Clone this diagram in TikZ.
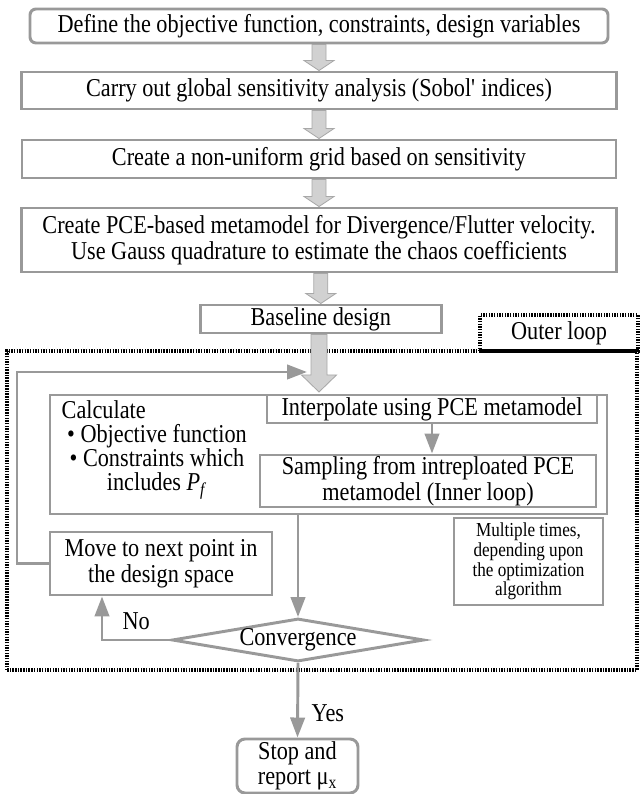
\documentclass[tikz,border=0pt]{standalone}
\usepackage{fontspec}
\setmainfont{Liberation Serif}[FakeStretch=0.865]
\usetikzlibrary{shapes.geometric,arrows.meta,calc}
\definecolor{linegray}{gray}{0.6}
\definecolor{arrowfill}{gray}{0.82}
\definecolor{arrowline}{gray}{0.66}
\tikzset{
  stepbox/.style={draw=linegray, line width=2.1pt, inner sep=0pt, align=center},
  loopframe/.style={draw=black, line width=2.4pt, dash pattern=on 1pt off 0.9pt},
  flowline/.style={draw=linegray, line width=2.1pt},
  flowarrow/.style={flowline, -{Triangle[length=0.5cm,width=0.36cm]}},
  blockarrow/.style={draw=arrowline, fill=arrowfill, line width=0.6pt},
}
% wide grey arrow: #1 from node, #2 target point, #3 half shaft, #4 half head, #5 head length
\newcommand{\drawblockarrow}[5]{%
  \draw[blockarrow] let \p1=(#1.south), \p2=(#2) in
    (\x2-#3,\y1) -- (\x2-#3,\y2+#5) -- (\x2-#4,\y2+#5) -- (\x2,\y2)
    -- (\x2+#4,\y2+#5) -- (\x2+#3,\y2+#5) -- (\x2+#3,\y1) -- cycle;}
\begin{document}
\begin{tikzpicture}
                        \useasboundingbox (0,0) rectangle (16,19.85);
                        {\fontsize{18.3}{18.2}\selectfont

                        % Drawing the outer loop frame
                        \draw [loopframe] (0.175,3.1) rectangle (15.925,11.075);%
                        \node [stepbox, loopframe, minimum width=3.95cm, minimum height=0.9cm] (outer) at (13.975,11.525) {Outer loop};%

                        % Drawing the set-up steps
                        \node [stepbox, rounded corners=0.15cm, minimum width=14.45cm, minimum height=0.85cm] (define) at (7.975,19.2) {Define the objective function, constraints, design variables};%
                        \node [stepbox, minimum width=14.875cm, minimum height=0.925cm] (sens) at (7.975,17.5875) {Carry out global sensitivity analysis (Sobol\textquotesingle\ indices)};%
                        \node [stepbox, minimum width=14.85cm, minimum height=0.95cm] (grid) at (7.975,15.875) {Create a non-uniform grid based on sensitivity};%
                        \node [stepbox, minimum width=14.875cm, minimum height=1.6cm] (pce) at (7.975,13.85) {Create PCE-based metamodel for Divergence/Flutter velocity.\\ Use Gauss quadrature to estimate the chaos coefficients};%
                        \node [stepbox, minimum width=6.025cm, minimum height=0.7cm] (baseline) at (8.02,11.875) {Baseline design};%

                        % Marking the loop entry points
                        \coordinate (entry) at (7.975,10.05);%
                        \coordinate (loopcorner) at (0.425,10.55);%
                        \coordinate (looptip) at (7.675,10.55);%
                        \coordinate (noturn) at (2.55,3.85);%

                        % Drawing the grey arrows
                        \drawblockarrow{define}{sens.north}{0.175cm}{0.375cm}{0.25cm}%
                        \drawblockarrow{sens}{grid.north}{0.175cm}{0.375cm}{0.25cm}%
                        \drawblockarrow{grid}{pce.north}{0.175cm}{0.375cm}{0.25cm}%
                        \drawblockarrow{pce}{baseline.north}{0.175cm}{0.375cm}{0.25cm}%
                        \drawblockarrow{baseline}{entry}{0.2cm}{0.4375cm}{0.425cm}%

                        % Drawing the calculation block
                        \node [stepbox, minimum width=13.925cm, minimum height=2.975cm] (calc) at (8.2125,8.4875) {};%
                        \node [anchor=west, inner sep=1pt, text depth=0pt] (calctitle) at (1.5,9.62) {Calculate};%
                        \node [align=center, inner sep=1pt, font=\fontsize{18.3}{17.2}\selectfont] (calclist) at (3.925,8.31) {\textbullet~Objective function\\ \textbullet~Constraints which\\ includes \textit{P}\textsubscript{\textit{f}}};%
                        \node [stepbox, minimum width=8.25cm, minimum height=0.7cm] (interp) at (10.8,9.625) {Interpolate using PCE metamodel};%
                        \node [stepbox, minimum width=8.4cm, minimum height=1.3cm] (sampling) at (10.7,7.825) {Sampling from intreploated PCE\\ metamodel (Inner loop)};%
                        \node [stepbox, minimum width=3.725cm, minimum height=2.175cm, font=\fontsize{14.1}{13.9}\selectfont] (repeat) at (13.2125,5.8125) {Multiple times,\\ depending upon\\ the optimization\\ algorithm};%

                        % Drawing the decision part
                        \node [stepbox, minimum width=5.55cm, minimum height=1.575cm] (move) at (4.025,5.7625) {Move to next point in\\ the design space};%
                        \node [stepbox, diamond, aspect=5.86, minimum width=6.3cm, minimum height=1.075cm] (conv) at (7.45,3.85) {Convergence};%
                        \node [stepbox, rounded corners=0.2cm, minimum width=3.025cm, minimum height=1.35cm] (stop) at (7.4375,0.7) {Stop and\\ report μ\textsubscript{x}};%

                        % Drawing the connectors
                        \draw [flowarrow] (interp.south) -- (interp.south |- sampling.north);%
                        \draw [flowarrow] (calc.south -| conv.north) -- (conv.north);%
                        \draw [flowarrow] (conv.west) -- node [above] (no) {No} (noturn) -- (noturn |- move.south);%
                        \draw [flowarrow] (move.west) -| (loopcorner) -- (looptip);%
                        \draw [flowarrow] (conv.south) -- node [pos=0.68, anchor=west, xshift=0.1cm] (yes) {Yes} (stop.north);%
                        }
\end{tikzpicture}
\end{document}
